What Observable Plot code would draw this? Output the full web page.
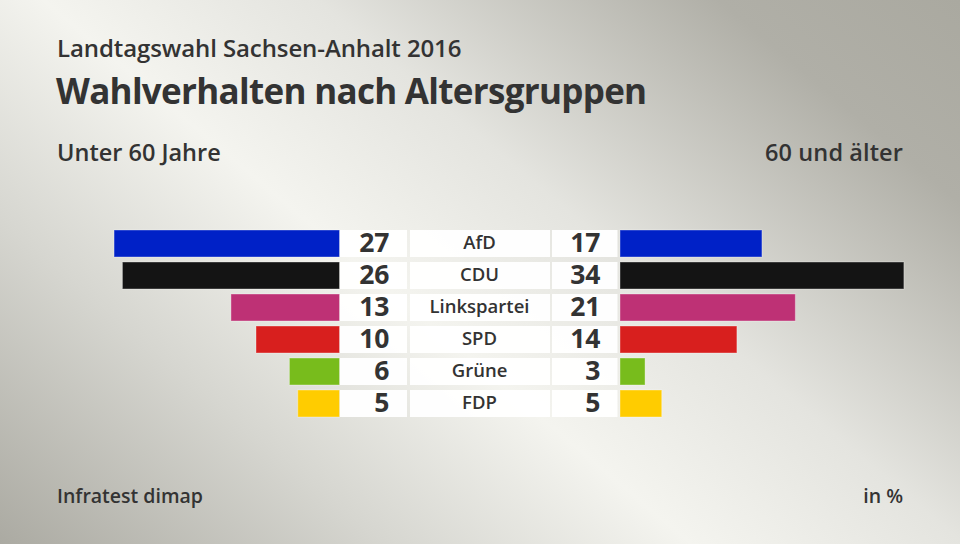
<!DOCTYPE html>
<html><head><meta charset="utf-8">
<script src="https://cdn.jsdelivr.net/npm/d3@7"></script>
<script src="https://cdn.jsdelivr.net/npm/@observablehq/plot@0.6"></script>
<style>
html,body{margin:0;padding:0;}
#wrap{position:relative;width:960px;height:544px;overflow:hidden;
  background:linear-gradient(40deg,#abaaa2 0%,#d6d6d0 24%,#f4f4ef 43%,#e4e4df 60%,#b0afa7 85%,#aaa9a0 100%);
  font-family:"Open Sans",sans-serif;color:#333;}
.t{position:absolute;white-space:nowrap;line-height:1;}
#sub{left:57px;top:36px;font-size:24px;font-weight:600;letter-spacing:-0.1px;}
#title{left:56px;top:73px;font-size:35px;font-weight:700;letter-spacing:-0.7px;}
#left{left:57px;top:141px;font-size:23.5px;font-weight:600;letter-spacing:0px;}
#right{right:57px;top:141px;font-size:23.5px;font-weight:600;letter-spacing:0.1px;}
#src{left:57px;top:486px;font-size:19.5px;font-weight:600;letter-spacing:0px;}
#unit{right:57px;top:486px;font-size:19.5px;font-weight:600;letter-spacing:0px;}
#chart{position:absolute;left:0;top:215px;}
</style></head>
<body><div id="wrap">
<div class="t" id="sub">Landtagswahl Sachsen-Anhalt 2016</div>
<div class="t" id="title">Wahlverhalten nach Altersgruppen</div>
<div class="t" id="left">Unter 60 Jahre</div>
<div class="t" id="right">60 und älter</div>
<div class="t" id="src">Infratest dimap</div>
<div class="t" id="unit">in %</div>
<div id="chart"></div>
</div>
<script>
const parties = ["AfD","CDU","Linkspartei","SPD","Grüne","FDP"];
const under60 = [27,26,13,10,6,5];
const over60 = [17,34,21,14,3,5];
const colors = ["#0021c7","#141414","#be3175","#d81f1e","#78bc1c","#ffcc00"];

const rows = parties.map((p,i)=>({party:p, left:under60[i], right:over60[i], color:colors[i]}));

// layout (pixels -> units)
const k = 8.35, cx = 479.75;
const u = px => (px - cx) / k;
const g = 140.25 / k;

const chart = Plot.plot({
  width: 960, height: 215,
  marginLeft: 0, marginRight: 0, marginTop: 0, marginBottom: 0,
  style: {background: "transparent", fontFamily: "'Open Sans', sans-serif", overflow: "visible"},
  x: {domain: [u(0), u(960)], range: [0, 960], axis: null},
  y: {domain: parties, range: [10.7, 206.9], paddingInner: 0.16, paddingOuter: 0.08, axis: null},
  marks: [
    Plot.barX(rows, {y: "party", x1: d => -g - d.left, x2: -g, fill: "color", stroke: "#ffffff", strokeOpacity: 0.35, strokeWidth: 1}),
    Plot.barX(rows, {y: "party", x1: g, x2: d => g + d.right, fill: "color", stroke: "#ffffff", strokeOpacity: 0.35, strokeWidth: 1}),
    Plot.barX(rows, {y: "party", x1: u(340), x2: u(407), fill: "white", fillOpacity: 0.95}),
    Plot.barX(rows, {y: "party", x1: u(410), x2: u(550), fill: "white", fillOpacity: 0.95}),
    Plot.barX(rows, {y: "party", x1: u(552), x2: u(617.5), fill: "white", fillOpacity: 0.95}),
    Plot.text(rows, {y: "party", x: u(389), text: d => String(d.left), textAnchor: "end", fontSize: 26.5, fontWeight: 700, fill: "#333", dy: 0}),
    Plot.text(rows, {y: "party", x: u(600), text: d => String(d.right), textAnchor: "end", fontSize: 26.5, fontWeight: 700, fill: "#333", dy: 0}),
    Plot.text(rows, {y: "party", x: u(479), text: "party", textAnchor: "middle", fontSize: 18.5, fontWeight: 600, fill: "#333", dy: -1})
  ]
});
document.getElementById("chart").appendChild(chart);
</script>
</body></html>
